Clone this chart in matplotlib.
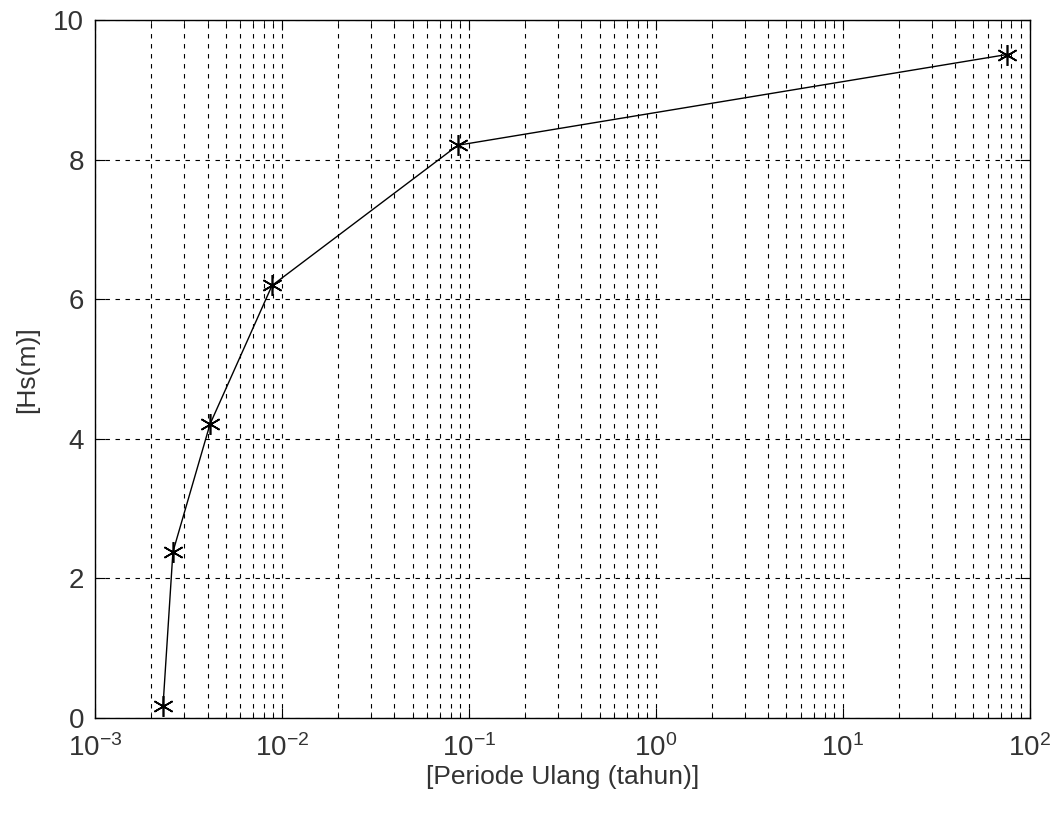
import numpy as np
import matplotlib.pyplot as plt
from matplotlib.ticker import LogLocator, NullFormatter

plt.rcParams['font.family'] = ['Liberation Sans', 'DejaVu Sans']
plt.rcParams['mathtext.fontset'] = 'custom'
plt.rcParams['mathtext.rm'] = 'Liberation Sans'
plt.rcParams['mathtext.default'] = 'rm'

# return period (years) vs significant wave height
periode = [0.00231, 0.00261, 0.00412, 0.00885, 0.0873, 75.4]
hs = [0.17, 2.38, 4.21, 6.20, 8.21, 9.51]

fig = plt.figure(figsize=(10.56, 8.15), dpi=100)
ax = fig.add_axes([0.090, 0.119, 0.885, 0.856])

ax.semilogx(periode, hs, color='black', linewidth=1.0, marker=(6, 2, 0),
            markersize=15, markeredgewidth=1.2)

ax.set_xlim(1e-3, 1e2)
ax.set_ylim(0, 10)
ax.set_yticks([0, 2, 4, 6, 8, 10])
ax.xaxis.set_major_locator(LogLocator(base=10, numticks=10))
ax.xaxis.set_minor_locator(LogLocator(base=10, subs=np.arange(2, 10), numticks=20))
ax.xaxis.set_minor_formatter(NullFormatter())

ax.grid(True, which='major', axis='both', linestyle=(0, (4, 5)), color='black', linewidth=0.8)
ax.grid(True, which='minor', axis='x', linestyle=(0, (4, 5)), color='black', linewidth=0.8)

ax.tick_params(which='both', direction='in', top=True, right=True, labelsize=20,
               labelcolor='#333333')
ax.tick_params(axis='x', pad=12)
ax.tick_params(axis='y', pad=8)
ax.tick_params(which='major', length=7)
ax.tick_params(which='minor', length=4)

ax.set_xlabel('[Periode Ulang (tahun)]', fontsize=19, color='#333333', labelpad=2)
ax.set_ylabel('[Hs(m)]', fontsize=19, color='#333333', labelpad=10)

for s in ax.spines.values():
    s.set_linewidth(1.0)

fig.savefig('out.png', dpi=100)
